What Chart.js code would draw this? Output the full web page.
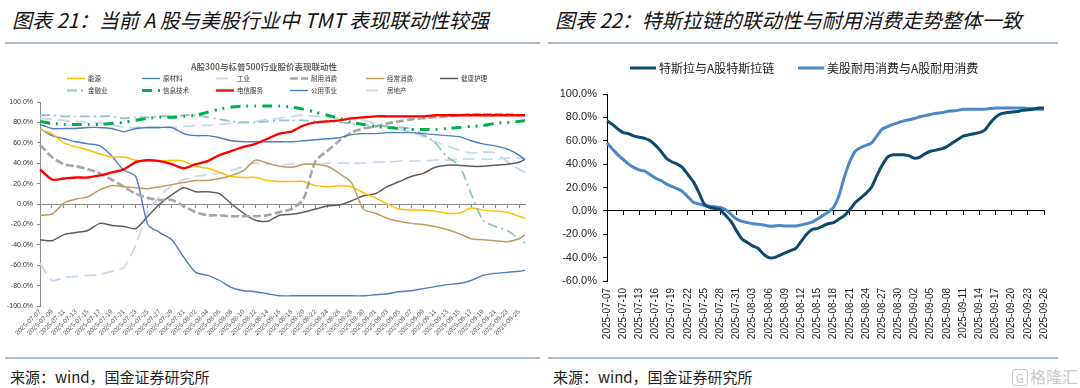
<!DOCTYPE html>
<html>
<head>
<meta charset="utf-8">
<script src="https://cdn.jsdelivr.net/npm/chart.js@4.4.1/dist/chart.umd.min.js"></script>
<style>
  body { margin: 0; background: #fff; }
  #page { position: relative; width: 1080px; height: 388px; overflow: hidden; font-family: "Noto Sans CJK SC", sans-serif; }
  .ttl { position: absolute; top: 5px; font-size: 20px; font-style: italic; color: #111; white-space: nowrap; }
  .rule { position: absolute; height: 2px; background: #A9BCCD; }
  .src { position: absolute; top: 366px; font-size: 15px; color: #222; white-space: nowrap; }
  .wm { position: absolute; left: 1012px; top: 364px; color: #c9c9c9; font-size: 16px; white-space: nowrap; }
  .wm b { display: inline-block; border: 1.5px solid #c9c9c9; border-radius: 3px; font-size: 12px; width: 14px; height: 15px; line-height: 15px; text-align: center; margin-right: 2px; font-weight: normal; }
  canvas { position: absolute; }
</style>
</head>
<body>
<div id="page">
  <div class="ttl" style="left:12px">图表 21：当前 A 股与美股行业中 TMT 表现联动性较强</div>
  <div class="rule" style="left:5px;width:535px;top:42px"></div>
  <div class="ttl" style="left:555px">图表 22：特斯拉链的联动性与耐用消费走势整体一致</div>
  <div class="rule" style="left:548px;width:510px;top:42px"></div>

  <canvas id="leftChart" width="540" height="300" style="left:0;top:55px"></canvas>
  <canvas id="rightChart" width="535" height="300" style="left:545px;top:55px"></canvas>

  <div class="rule" style="left:5px;width:535px;top:357px"></div>
  <div class="rule" style="left:548px;width:510px;top:357px"></div>
  <div class="src" style="left:10px">来源：wind，国金证券研究所</div>
  <div class="src" style="left:553px">来源：wind，国金证券研究所</div>
  <div class="wm"><b>G</b>格隆汇</div>
</div>

<script>
// daily categories 2025-07-07 .. 2025-09-26
const allDates = [];
const firstDay = Date.UTC(2025, 6, 7);
for (let i = 0; i < 82; i++) {
  allDates.push(new Date(firstDay + i * 86400000).toISOString().slice(0, 10));
}
const leftDates = allDates.filter((d, i) => i % 2 === 0 || i === allDates.length - 1);

const leftYTicks = [-100, -80, -60, -40, -20, 0, 20, 40, 60, 80, 100];
const rightYTicks = [-60, -40, -20, 0, 20, 40, 60, 80, 100];

// left chart: A股300 vs 标普500 sector correlation (%)
const nengyuan = [73,69,60,56,53,49,46,46,43,42,42,43,42,37,35,31,27,26,26,23,22,22,22,18,17,18,17,11,6,0,-5,-6,-6,-7,-9,-9,-4,-6,-7,-8,-12,-14];
const yuancailiao = [74,67,64,61,59,57,47,33,27,-20,-28,-35,-52,-67,-70,-75,-82,-85,-86,-88,-90,-90,-90,-90,-90,-90,-90,-90,-89,-88,-86,-85,-83,-81,-79,-78,-75,-70,-68,-67,-66,-65];
const gongye = [84,83,82,81,80,80,78,75,75,75,75,75,76,77,77,78,79,80,81,83,84,86,87,86,85,84,83,82,79,76,73,71,66,61,57,53,50,51,50,42,34,31];
const naiyong = [58,46,39,37,34,30,24,17,10,6,4,4,-2,-8,-11,-11,-12,-12,-12,-11,-8,-5,5,42,52,62,70,74,76,79,81,83,84,85,86,87,88,88,88,88,87,87];
const jingchang = [-11,-10,1,5,7,14,18,17,16,15,17,19,21,23,23,25,28,33,43,40,37,36,39,39,37,30,21,-5,-9,-14,-17,-19,-20,-22,-25,-29,-34,-35,-36,-37,-34,-30];
const jiankang = [-35,-36,-30,-28,-26,-19,-21,-22,-24,-12,0,9,16,12,12,10,0,-9,-16,-17,-11,-10,-8,-5,-2,-1,3,8,10,17,22,27,30,36,38,38,37,37,38,39,41,44];
const jinrong = [87,87,86,86,86,86,86,84,85,85,86,86,87,87,85,83,81,80,80,81,82,82,82,81,81,80,79,78,77,76,75,74,68,60,46,38,10,-16,-22,-26,-34,-38];
const xinxi = [81,79,78,78,78,78,79,80,82,84,85,85,86,87,90,93,95,96,96,96,96,95,93,90,87,84,80,78,76,75,74,73,73,73,74,75,76,77,79,80,81,82];
const dianxin = [34,24,25,26,26,28,31,34,41,43,42,39,35,39,42,48,52,56,59,64,69,71,77,80,81,82,84,85,86,86,86,86,86,87,87,87,87,87,87,87,87,87];
const gongyong = [78,74,74,74,75,75,74,71,74,75,75,75,69,67,67,65,62,61,61,61,61,61,62,63,64,65,68,69,69,70,70,70,69,68,67,66,62,59,57,54,48,43];
const fangdichan = [-58,-75,-72,-71,-70,-69,-66,-62,-40,-8,8,18,24,27,29,30,33,37,40,39,38,39,39,39,40,40,40,40,41,41,42,42,42,43,43,44,44,44,44,45,45,45];

// right chart: daily values (%)
const tesla = [77,74,70,67,66,64,63,62,60,56, 51,45,42,40,37,31,25,16,6,3,
  2,1,-4,-9,-17,-24,-27,-30,-32,-37, -40,-40,-38,-36,-34,-32,-26,-20,-16,-15,
  -13,-11,-10,-7,-4,1,7,11,15,20, 30,39,46,48,48,48,47,45,46,49,
  51,52,53,55,58,61,64,65,66,67, 69,75,80,83,84,84.5,85,86,86.5,87, 88,88];
const durable = [58,53,48,44,40,37,35,34,31,28, 26,23,21,19,16.5,12,7.4,6,4.6,4,
  3.5,3,1,-3,-7,-9,-10,-11,-11.4,-12, -13,-13,-12.5,-13,-13,-13,-12,-11,-9.7,-7,
  -4,-1,3,13,29,42,51,54,56,58, 64,70,72,74,75.5,77,78,79,80.5,81.5,
  82.5,83.5,84,85,85.5,86,87,87,87,87, 87,87.5,88,88,88,88,88,88,87.5,87.5, 87,87];

const pts = vals => leftDates.map((d, i) => ({ x: d, y: vals[i] }));
const pct = v => v.toFixed(1) + '%';

// draws the title and a line-sample legend at fixed spots
const lineLegend = {
  id: 'lineLegend',
  afterDraw(chart, args, opts) {
    const ctx = chart.ctx;
    ctx.save();
    if (opts.title) {
      ctx.font = opts.titleFont;
      ctx.fillStyle = opts.titleColor;
      ctx.textAlign = 'center';
      ctx.textBaseline = 'middle';
      ctx.fillText(opts.title, opts.titleX, opts.titleY);
    }
    ctx.textAlign = 'left';
    ctx.textBaseline = 'middle';
    ctx.font = opts.font;
    chart.data.datasets.forEach((ds, i) => {
      const [x, y] = opts.spots[i];
      ctx.beginPath();
      ctx.setLineDash(ds.borderDash || []);
      ctx.lineWidth = ds.borderWidth;
      ctx.strokeStyle = ds.borderColor;
      ctx.moveTo(x, y);
      ctx.lineTo(x + opts.lineLen, y);
      ctx.stroke();
      ctx.setLineDash([]);
      ctx.fillStyle = opts.color;
      ctx.fillText(ds.label, x + opts.lineLen + opts.gap, y);
    });
    ctx.restore();
  }
};

const cols = [67, 142, 216, 290, 366, 440];
const leftSpots = [0,1,2,3,4,5].map(i => [cols[i], 23.5]).concat([0,1,2,3,4].map(i => [cols[i], 35.5]));

new Chart(document.getElementById('leftChart'), {
  type: 'line',
  data: {
    labels: allDates,
    datasets: [
      { label: '能源', data: pts(nengyuan), borderColor: '#FFC000', borderWidth: 1.5, order: 5 },
      { label: '原材料', data: pts(yuancailiao), borderColor: '#4A7EC2', borderWidth: 1.4, order: 6 },
      { label: '工业', data: pts(gongye), borderColor: '#C6DAF0', borderWidth: 1.8, borderDash: [12, 6], order: 9 },
      { label: '耐用消费', data: pts(naiyong), borderColor: '#A6A6A6', borderWidth: 2.6, borderDash: [8, 3], order: 3 },
      { label: '经常消费', data: pts(jingchang), borderColor: '#C19C62', borderWidth: 1.5, order: 7 },
      { label: '健康护理', data: pts(jiankang), borderColor: '#5E5E5E', borderWidth: 1.5, order: 8 },
      { label: '金融业', data: pts(jinrong), borderColor: '#93C3C9', borderWidth: 1.8, borderDash: [10, 4, 2, 4], order: 4 },
      { label: '信息技术', data: pts(xinxi), borderColor: '#00B050', borderWidth: 3, borderDash: [10, 6, 2, 6, 2, 6], order: 1 },
      { label: '电信服务', data: pts(dianxin), borderColor: '#FF0000', borderWidth: 2.3, order: 0 },
      { label: '公用事业', data: pts(gongyong), borderColor: '#4A7EC2', borderWidth: 1.4, order: 2 },
      { label: '房地产', data: pts(fangdichan), borderColor: '#C6DAF0', borderWidth: 1.8, borderDash: [12, 6], order: 10 }
    ]
  },
  plugins: [lineLegend],
  options: {
    responsive: false,
    animation: false,
    layout: { padding: { top: 47, right: 15, left: 0, bottom: 0 } },
    elements: { point: { radius: 0 }, line: { tension: 0.25 } },
    plugins: {
      legend: { display: false },
      tooltip: { enabled: false },
      lineLegend: {
        title: 'A股300与标普500行业股价表现联动性',
        titleFont: 'bold 8.5px "Noto Sans CJK SC"', titleColor: '#666', titleX: 264, titleY: 12,
        font: '6.5px "Noto Sans CJK SC"', color: '#333',
        spots: leftSpots, lineLen: 18, gap: 3
      }
    },
    scales: {
      x: {
        ticks: {
          autoSkip: false, maxRotation: 45, minRotation: 45, padding: 2,
          color: '#595959', font: { size: 6.5, family: 'Liberation Sans' },
          callback: (v, i) => i % 2 === 0 ? allDates[i] : ''
        },
        grid: { display: false, drawTicks: false },
        border: { display: false },
        afterFit(s) { s.height = 49; }
      },
      x0: {
        axis: 'x', type: 'category', position: { y: 0 },
        ticks: { display: false, autoSkip: false },
        grid: { drawOnChartArea: false, tickLength: 3, color: c => c.index % 2 === 0 ? '#8C8C8C' : 'rgba(0,0,0,0)' },
        border: { color: '#8C8C8C' }
      },
      y: {
        min: leftYTicks[0], max: leftYTicks[leftYTicks.length - 1],
        ticks: { stepSize: leftYTicks[1] - leftYTicks[0], callback: pct, color: '#333', padding: 4, font: { size: 7, family: 'Liberation Sans' } },
        grid: { drawOnChartArea: false, tickLength: 3, color: '#8C8C8C' },
        border: { color: '#8C8C8C' },
        afterFit(s) { s.width = 40; }
      }
    }
  }
});

new Chart(document.getElementById('rightChart'), {
  type: 'line',
  data: {
    labels: allDates,
    datasets: [
      { label: '特斯拉与A股特斯拉链', data: tesla, borderColor: '#0C4A6E', borderWidth: 3 },
      { label: '美股耐用消费与A股耐用消费', data: durable, borderColor: '#4A88C8', borderWidth: 3 }
    ]
  },
  plugins: [lineLegend],
  options: {
    responsive: false,
    animation: false,
    layout: { padding: { top: 39, right: 36, left: 0, bottom: 0 } },
    elements: { point: { radius: 0 }, line: { tension: 0.2 } },
    plugins: {
      legend: { display: false },
      tooltip: { enabled: false },
      lineLegend: {
        font: '12px "Noto Sans CJK SC"', color: '#222',
        spots: [[85, 13], [253, 13]], lineLen: 26, gap: 3
      }
    },
    scales: {
      x: {
        ticks: {
          autoSkip: false, maxRotation: 90, minRotation: 90, padding: 7,
          color: '#222', font: { size: 10, family: 'Liberation Sans' },
          callback: (v, i) => i % 3 === 0 ? allDates[i] : ''
        },
        grid: { display: false, drawTicks: false },
        border: { display: false },
        afterFit(s) { s.height = 74; }
      },
      x0: {
        axis: 'x', type: 'category', position: { y: 0 },
        ticks: { display: false, autoSkip: false },
        grid: { drawOnChartArea: false, tickLength: 4, color: c => c.index % 3 === 0 ? '#000' : 'rgba(0,0,0,0)' },
        border: { color: '#000' }
      },
      y: {
        min: rightYTicks[0], max: rightYTicks[rightYTicks.length - 1],
        ticks: { stepSize: rightYTicks[1] - rightYTicks[0], callback: pct, color: '#222', padding: 6, font: { size: 11, family: 'Liberation Sans' } },
        grid: { drawOnChartArea: false, tickLength: 4, color: '#000' },
        border: { color: '#000' },
        afterFit(s) { s.width = 62; }
      }
    }
  }
});
</script>
</body>
</html>
